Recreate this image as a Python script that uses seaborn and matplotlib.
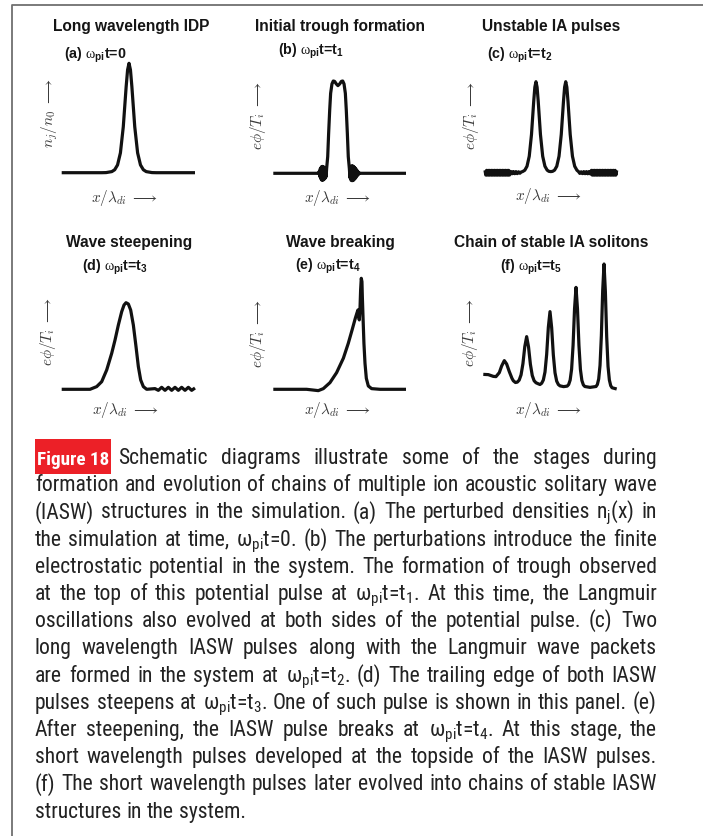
import os
import matplotlib
matplotlib.use("Agg")
import matplotlib.pyplot as plt
import pandas as pd
import seaborn as sns
from matplotlib import font_manager
from matplotlib.font_manager import FontProperties
from matplotlib.lines import Line2D
from matplotlib.patches import Rectangle

# ---------------------------------------------------------------- data
# (a) initial ion density perturbation
a_x = [0, 30, 33.3, 37.6, 39.75, 41.9, 44.05, 46.2, 48.35, 49.43, 50.5,
       51.58, 52.65, 54.8, 56.95, 59.1, 61.25, 63.4, 67.7, 71, 100]
a_y = [0, 0, 0.001, 0.01, 0.027, 0.071, 0.181, 0.42, 0.786, 0.94, 1.0,
       0.94, 0.786, 0.42, 0.181, 0.071, 0.027, 0.01, 0.001, 0, 0]

# (b) potential pulse with a trough on top and Langmuir bursts at its feet
b_x = [0, 34.2, 34.6, 35.0, 35.4, 35.8, 36.2, 36.6, 37.0, 37.4, 37.8, 38.2,
       38.6, 39.0, 39.4, 39.8, 40.2, 41.0, 41.7, 42.5, 43.2, 44.2, 45.2, 46.2,
       47.5, 48.7, 50.0, 51.3, 52.3, 53.3, 54.3, 55.0, 55.8, 56.5, 57.3,
       57.8, 58.2, 58.6, 59.0, 59.4, 59.8, 60.2, 60.6, 61.0, 61.4, 61.8, 62.2,
       62.6, 63.0, 63.4, 63.8, 64.2, 64.6, 65.2, 100]
b_y = [0, 0, 0.02, -0.035, 0.05, -0.06, 0.07, -0.075, 0.075, -0.075, 0.072,
       -0.068, 0.062, -0.055, 0.048, -0.038, 0.054, 0.18, 0.433, 0.686, 0.866,
       0.968, 1.0, 0.996, 0.968, 0.95, 0.968, 0.996, 1.0, 0.968, 0.866,
       0.686, 0.433, 0.18, 0.054,
       -0.05, 0.065, -0.075, 0.08, -0.08, 0.08, -0.078, 0.074, -0.068, 0.062,
       -0.055, 0.048, -0.04, 0.034, -0.025, 0.018, -0.012, 0.006, 0, 0]

# (c) two ion-acoustic pulses between Langmuir wave packets
c_x = [0.0, 0.6, 1.2, 1.8, 2.4, 3.0, 3.6, 4.2, 4.8, 5.4, 6.0, 6.6, 7.2, 7.8,
       8.4, 9.0, 9.6, 10.2, 10.8, 11.4, 12.0, 12.6, 13.2, 13.8, 14.4, 15.0,
       15.6, 16.2, 16.8, 17.4, 18.0, 18.6,
       19.5, 20.5, 21.5, 22.5, 23.5, 24.5, 25.5, 26.5, 27.5,
       28.5, 30.2, 31.9, 33.6, 35.3, 37.0, 37.85, 38.7, 39.55, 40.4, 42.1,
       43.8, 45.5, 47.2, 48.5, 50.0, 51.3, 52.8, 54.5, 56.2, 57.9, 59.6,
       60.45, 61.3, 62.15, 63.0, 64.7, 66.4, 68.1, 69.8, 71.0,
       72.0, 73.0, 74.0, 75.0, 76.0, 77.0, 78.0, 79.0, 80.0,
       80.8, 81.4, 82.0, 82.6, 83.2, 83.8, 84.4, 85.0, 85.6, 86.2, 86.8,
       87.4, 88.0, 88.6, 89.2, 89.8, 90.4, 91.0, 91.6, 92.2, 92.8, 93.4,
       94.0, 94.6, 95.2, 95.8, 96.4, 97.0, 97.6, 98.2, 98.8, 99.4, 100.0]
c_y = [0.026, -0.026, 0.026, -0.026, 0.026, -0.026, 0.026, -0.026, 0.026,
       -0.026, 0.026, -0.026, 0.026, -0.026, 0.026, -0.026, 0.026, -0.026,
       0.026, -0.026, 0.026, -0.026, 0.026, -0.026, 0.026, -0.026, 0.026,
       -0.026, 0.026, -0.026, 0.026, -0.026,
       0.014, -0.012, 0.013, -0.011, 0.012, -0.01, 0.01, -0.006, 0.008,
       0.012, 0.027, 0.071, 0.181, 0.42, 0.786, 0.94, 1.0, 0.94, 0.786, 0.42,
       0.181, 0.071, 0.028, 0.015, 0.012, 0.015, 0.028, 0.071, 0.181, 0.42,
       0.786, 0.94, 1.0, 0.94, 0.786, 0.42, 0.181, 0.071, 0.027, 0.012,
       -0.008, 0.01, -0.01, 0.012, -0.011, 0.012, -0.012, 0.013, -0.013,
       0.026, -0.026, 0.026, -0.026, 0.026, -0.026, 0.026, -0.026, 0.026,
       -0.026, 0.026, -0.026, 0.026, -0.026, 0.026, -0.026, 0.026, -0.026,
       0.026, -0.026, 0.026, -0.026, 0.026, -0.026, 0.026, -0.026, 0.026,
       -0.026, 0.026, -0.026, 0.026, -0.026, 0.026]

# (d) steepened pulse
d_x = [0, 21.25, 26.25, 30, 33.75, 37.5, 40, 42.5, 45, 46.75, 48.25, 50,
       51.75, 53.75, 55.75, 57.5, 59.25, 61.25, 63.75, 70, 72.5, 75, 77.5,
       80, 82.5, 85, 87.5, 90, 92.5, 95, 97.5, 100]
d_y = [0, 0, 0.031, 0.088, 0.223, 0.415, 0.569, 0.742, 0.896, 0.973, 1.0,
       0.985, 0.915, 0.742, 0.492, 0.262, 0.108, 0.031, 0.0, 0.008, -0.012,
       0.023, -0.012, 0.023, -0.012, 0.023, -0.012, 0.023, -0.012, 0.023,
       -0.012, 0.015]

# (e) breaking pulse
e_x = [0, 25.1, 33.9, 37.7, 42.7, 47.7, 52.8, 56.5, 59.5, 61.8, 63.1, 63.8,
       64.3, 64.8, 65.3, 65.8, 66.3, 66.8, 67.1, 67.6, 68.3, 69.1, 70.1,
       71.6, 74.1, 80.4, 100]
e_y = [0, 0, -0.012, 0.006, 0.06, 0.15, 0.28, 0.414, 0.54, 0.64, 0.69,
       0.715, 0.66, 0.625, 0.715, 0.895, 1.0, 0.97, 0.835, 0.655, 0.414,
       0.234, 0.099, 0.03, 0.006, 0, 0]

# (f) chain of ion-acoustic solitons
f_x = [0, 3.75, 7.5, 9.5, 12, 13.75, 15.75, 17.5, 19.5, 21.5, 22.5, 24.1,
       25.5, 26.9, 28.3, 29.7, 31.1, 32.5, 33.9, 35.3, 36.7, 38.1, 39.5,
       40.9, 42.5, 43.75, 45.0, 46.25, 47.5, 48.75, 50, 51.25, 52.5, 53.75,
       55.0, 56.25, 57.5, 60.2, 62.9, 64.0, 65.1, 66.2, 67.3, 68.4, 69.5,
       70.6, 71.7, 72.8, 73.9, 75.0, 76.1, 80.0, 84.5, 85.5, 86.5, 87.5,
       88.5, 89.5, 90.5, 91.5, 92.5, 93.5, 94.5, 95.5, 96.5, 100]
f_y = [0.117, 0.115, 0.101, 0.099, 0.131, 0.184, 0.227, 0.2, 0.139, 0.085,
       0.066, 0.052, 0.055, 0.071, 0.113, 0.202, 0.339, 0.419, 0.337, 0.198,
       0.108, 0.066, 0.05, 0.043, 0.036, 0.046, 0.072, 0.136, 0.277, 0.493,
       0.619, 0.49, 0.272, 0.13, 0.063, 0.036, 0.025, 0.019, 0.023, 0.036,
       0.071, 0.159, 0.35, 0.642, 0.813, 0.641, 0.348, 0.156, 0.068, 0.033,
       0.02, 0.013, 0.02, 0.036, 0.08, 0.189, 0.426, 0.788, 1.0, 0.782,
       0.418, 0.181, 0.072, 0.027, 0.01, 0.0]

titles = ["Long wavelength IDP", "Initial trough formation",
          "Unstable IA pulses", "Wave steepening", "Wave breaking",
          "Chain of stable IA solitons"]
stages = ["(a)", "(b)", "(c)", "(d)", "(e)", "(f)"]
times = ["0", "t$_{\\mathbf{1}}$", "t$_{\\mathbf{2}}$", "t$_{\\mathbf{3}}$",
         "t$_{\\mathbf{4}}$", "t$_{\\mathbf{5}}$"]
ylabels = [r"$n_j/n_0\;\longrightarrow$"] + [r"$e\phi/T_i\;\longrightarrow$"] * 5
xlabel = r"$x/\lambda_{di}\;\longrightarrow$"

caption_tag = "Figure 18"
caption = [
    "Schematic diagrams illustrate some of the stages during",
    "formation and evolution of chains of multiple ion acoustic solitary wave",
    r"(IASW) structures in the simulation. (a) The perturbed densities n$_{\mathregular{j}}$(x) in",
    r"the simulation at time, ω$_{\mathregular{pi}}$t=0. (b) The perturbations introduce the finite",
    "electrostatic potential in the system. The formation of trough observed",
    r"at the top of this potential pulse at ω$_{\mathregular{pi}}$t=t$_{\mathregular{1}}$. At this time, the Langmuir",
    "oscillations also evolved at both sides of the potential pulse. (c) Two",
    "long wavelength IASW pulses along with the Langmuir wave packets",
    r"are formed in the system at ω$_{\mathregular{pi}}$t=t$_{\mathregular{2}}$. (d) The trailing edge of both IASW",
    r"pulses steepens at ω$_{\mathregular{pi}}$t=t$_{\mathregular{3}}$. One of such pulse is shown in this panel. (e)",
    r"After steepening, the IASW pulse breaks at ω$_{\mathregular{pi}}$t=t$_{\mathregular{4}}$. At this stage, the",
    "short wavelength pulses developed at the topside of the IASW pulses.",
    "(f) The short wavelength pulses later evolved into chains of stable IASW",
    "structures in the system.",
]

# ---------------------------------------------------------------- style
sns.set_theme(style="white")
SANS = ["Liberation Sans", "DejaVu Sans"]
plt.rcParams["font.family"] = SANS
plt.rcParams["mathtext.fontset"] = "custom"
plt.rcParams["mathtext.rm"] = "Liberation Serif"
plt.rcParams["mathtext.it"] = "Liberation Serif:italic"
plt.rcParams["mathtext.bf"] = "Liberation Sans:bold"
plt.rcParams["mathtext.sf"] = "Liberation Sans"

_files = {os.path.basename(f.fname).lower(): f.fname
          for f in font_manager.fontManager.ttflist}


def pick_font(candidates):
    for c in candidates:
        if c in _files:
            return _files[c]
    return None


narrow_file = pick_font(["liberationsansnarrow-regular.ttf", "arialn.ttf",
                         "robotocondensed-regular.ttf", "notosans-condensed.ttf",
                         "dejavusanscondensed.ttf", "opensans-condensed-regular.ttf"])
narrow_bold_file = pick_font(["liberationsansnarrow-bold.ttf", "arialnb.ttf",
                              "robotocondensed-bold.ttf", "notosans-condensedbold.ttf",
                              "dejavusanscondensed-bold.ttf", "opensans-condensed-bold.ttf"])


def cap_props(size):
    if narrow_file:
        return FontProperties(fname=narrow_file, size=size)
    return FontProperties(family=SANS, size=size)


def tag_props(size):
    if narrow_bold_file:
        return FontProperties(fname=narrow_bold_file, size=size)
    return FontProperties(family=SANS, weight="bold", size=size)


W, H = 703, 836
fig = plt.figure(figsize=(W / 100, H / 100), dpi=100)
fig.patch.set_facecolor("white")


def fx(px):
    return px / W


def fy(py):
    return 1 - py / H


def ftext(px, py, s, **kw):
    return fig.text(fx(px), fy(py), s, **kw)


# plot boxes in pixels: x-span of the trace, baseline and peak rows
boxes = [
    dict(xl=61.7, xr=195.0, y0=172.7, y1=63.3),
    dict(xl=273.3, xr=406.0, y0=173.3, y1=81.0),
    dict(xl=485.0, xr=616.7, y0=172.7, y1=81.7),
    dict(xl=61.7, xr=195.0, y0=389.3, y1=302.7),
    dict(xl=273.3, xr=406.0, y0=389.3, y1=278.3),
    dict(xl=483.3, xr=616.7, y0=389.0, y1=264.0),
]
title_pos = [(130.8, 26.7), (340, 26.0), (550.8, 26.7),
             (128.8, 242.3), (340, 242.3), (551, 242.3)]
stage_pos = [(64.3, 59), (278.3, 54.5), (486.7, 59),
             (81.7, 271), (295, 269.5), (500, 271)]
ylab_pos = [(50, 113), (258, 115), (471, 115),
            (48, 331), (258, 333), (470, 332)]
xlab_pos = [(125, 198), (338, 198), (549, 196),
            (126, 410), (338, 410), (549, 410)]

series = [(a_x, a_y), (b_x, b_y), (c_x, c_y), (d_x, d_y), (e_x, e_y), (f_x, f_y)]
YLO, YHI = -0.25, 1.15

for i, ((xs, ys), bx) in enumerate(zip(series, boxes)):
    unit = bx["y0"] - bx["y1"]
    top = bx["y0"] - YHI * unit
    bot = bx["y0"] - YLO * unit
    ax = fig.add_axes([fx(bx["xl"]), fy(bot), (bx["xr"] - bx["xl"]) / W, (bot - top) / H])
    df = pd.DataFrame({"x": xs, "y": ys})
    sns.lineplot(data=df, x="x", y="y", ax=ax, sort=False, estimator=None,
                 color="#111111", linewidth=2.3)
    for ln in ax.lines:
        ln.set_clip_on(False)
        ln.set_solid_joinstyle("round")
        ln.set_solid_capstyle("butt")
    ax.set_xlim(0, 100)
    ax.set_ylim(YLO, YHI)
    ax.set_axis_off()

    ftext(*title_pos[i], titles[i], ha="center", va="center", fontsize=11.2,
          fontweight="bold", color="#151515")
    stage = stages[i] + r" $\mathrm{\omega}_{\mathbf{pi}}$t=" + times[i]
    ftext(*stage_pos[i], stage, ha="left", va="baseline", fontsize=10.3,
          fontweight="bold", color="#151515", math_fontfamily="custom")
    ftext(*ylab_pos[i], ylabels[i], ha="center", va="center", rotation=90,
          fontsize=11, color="#3a3a3a", math_fontfamily="cm")
    ftext(*xlab_pos[i], xlabel, ha="center", va="center", fontsize=11,
          color="#3a3a3a", math_fontfamily="cm")

# frame lines along the top and left edges
fig.add_artist(Line2D([fx(12), fx(12), fx(703)], [fy(836), fy(5), fy(5)],
                      color="#6f6f6f", linewidth=1.3, transform=fig.transFigure))

# ---------------------------------------------------------------- caption
renderer = fig.canvas.get_renderer()


def width_of(s, fp):
    t = fig.text(0, 0, s, fontproperties=fp)
    w = t.get_window_extent(renderer).width
    t.remove()
    return w


CAP_L, CAP_R = 35.0, 657.0
TAG_R = 111.0
FIRST_X = 118.0
BASE0, STEP = 464.0, 27.2
size0 = 14.0
fp0 = cap_props(size0)
space0 = width_of("x x", fp0) - width_of("xx", fp0)
ratios = []
for k, line in enumerate(caption[:-1]):
    words = line.split(" ")
    natural = sum(width_of(w, fp0) for w in words) + space0 * (len(words) - 1)
    avail = (CAP_R - (FIRST_X if k == 0 else CAP_L))
    ratios.append(avail / natural)
size = min(16.2, size0 * min(ratios) * 0.99)
fp = cap_props(size)
space = width_of("x x", fp) - width_of("xx", fp)

for k, line in enumerate(caption):
    words = line.split(" ")
    widths = [width_of(w, fp) for w in words]
    x0 = FIRST_X if k == 0 else CAP_L
    base = BASE0 + STEP * k
    if k == len(caption) - 1:
        gap = space
    else:
        gap = (CAP_R - x0 - sum(widths)) / (len(words) - 1)
    x = x0
    for w, wd in zip(words, widths):
        ftext(x, base, w, ha="left", va="baseline", fontproperties=fp,
              color="#222222")
        x += wd + gap

# red tag box with the figure number
box_top, box_bot = BASE0 - 25, BASE0 + 10
fig.add_artist(Rectangle((fx(CAP_L), fy(box_bot)), (TAG_R - CAP_L) / W,
                         (box_bot - box_top) / H, transform=fig.transFigure,
                         facecolor="#ec2027", edgecolor="none"))
tag_size = 17.5
tw = width_of(caption_tag, tag_props(tag_size))
tag_size *= min(1.0, (TAG_R - CAP_L - 4) / tw)
ftext((CAP_L + TAG_R) / 2, BASE0 + 1.5, caption_tag, ha="center", va="baseline",
      fontproperties=tag_props(tag_size), color="white")

fig.savefig("out.png", dpi=100, facecolor="white")
